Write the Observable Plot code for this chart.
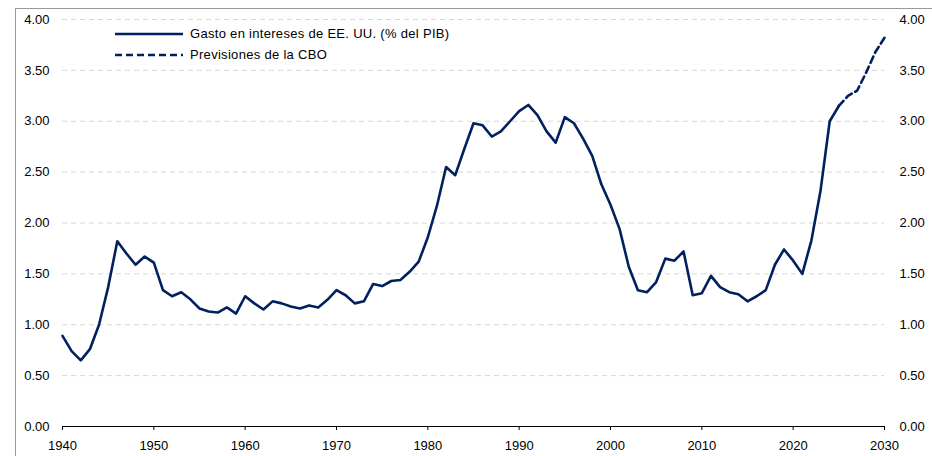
<!DOCTYPE html>
<html>
<head>
<meta charset="utf-8">
<script src="https://cdn.jsdelivr.net/npm/d3@7"></script>
<script src="https://cdn.jsdelivr.net/npm/@observablehq/plot@0.6"></script>
<style>
  html, body { margin: 0; padding: 0; background: #fff; overflow: hidden; }
  #wrap { position: relative; width: 932px; height: 456px; font-family: "Liberation Sans", Arial, sans-serif; }
  #frame { position: absolute; left: 15px; top: 8px; width: 1000px; height: 1000px; border-left: 1px solid #9a9a9a; border-top: 1px solid #9a9a9a; pointer-events: none; }
  #chart { position: absolute; left: 0; top: 0; }
  .legend { position: absolute; left: 115px; font-size: 13px; color: #000; display: flex; align-items: center; letter-spacing: 0.3px; }
  .legend svg { margin-right: 7px; }
</style>
</head>
<body>
<div id="wrap">
  <div id="frame"></div>
  <div id="chart"></div>
  <div class="legend" style="top:26px;"><svg width="68" height="4"><line x1="0" x2="68" y1="2" y2="2" stroke="#002060" stroke-width="2.5"/></svg><span>Gasto en intereses de EE. UU. (% del PIB)</span></div>
  <div class="legend" style="top:47px;"><svg width="68" height="4"><line x1="0" x2="68" y1="2" y2="2" stroke="#002060" stroke-width="2.5" stroke-dasharray="7,4"/></svg><span>Previsiones de la CBO</span></div>
</div>
<script>
const years = d3.range(1940, 2026);
const interest = [
  0.89, 0.74, 0.65, 0.76, 1.00, 1.37, 1.82, 1.70, 1.59, 1.67,
  1.61, 1.34, 1.28, 1.32, 1.25, 1.16, 1.13, 1.12, 1.17, 1.11,
  1.28, 1.21, 1.15, 1.23, 1.21, 1.18, 1.16, 1.19, 1.17, 1.245,
  1.34, 1.29, 1.21, 1.23, 1.40, 1.38, 1.43, 1.44, 1.52, 1.62,
  1.86, 2.17, 2.55, 2.47, 2.73, 2.98, 2.96, 2.85, 2.90, 3.00,
  3.10, 3.16, 3.06, 2.90, 2.79, 3.04, 2.98, 2.83, 2.66, 2.38,
  2.18, 1.94, 1.57, 1.34, 1.32, 1.42, 1.65, 1.63, 1.72, 1.29,
  1.31, 1.48, 1.37, 1.32, 1.30, 1.23, 1.28, 1.34, 1.59, 1.74,
  1.63, 1.50, 1.83, 2.32, 3.00, 3.15
];
const cboYears = [2025, 2026, 2027, 2028, 2029, 2030];
const cboValues = [3.15, 3.25, 3.30, 3.48, 3.68, 3.82];
const yTicks = [0, 0.5, 1, 1.5, 2, 2.5, 3, 3.5, 4];
const xTicks = [1940, 1950, 1960, 1970, 1980, 1990, 2000, 2010, 2020, 2030];

const actual = years.map((y, i) => ({year: y, value: interest[i]}));
const cbo = cboYears.map((y, i) => ({year: y, value: cboValues[i]}));
const fmt = d3.format(".2f");

const chart = Plot.plot({
  width: 932,
  height: 456,
  marginLeft: 62,
  marginRight: 48,
  marginTop: 19,
  marginBottom: 30,
  style: {fontFamily: '"Liberation Sans", Arial, sans-serif', fontSize: "13px", color: "#000", background: "transparent"},
  x: {domain: [1940, 2030]},
  y: {domain: [0, 4]},
  marks: [
    Plot.gridY(yTicks.filter(d => d > 0), {stroke: "#d6d6d6", strokeOpacity: 1, strokeDasharray: "5,4", strokeWidth: 1}),
    Plot.axisY(yTicks, {anchor: "left", tickSize: 0, tickPadding: 13, tickFormat: fmt, label: null}),
    Plot.axisY(yTicks, {anchor: "right", tickSize: 0, tickPadding: 15, tickFormat: fmt, label: null, textAnchor: "start"}),
    Plot.axisX(xTicks, {tickSize: 4, tickPadding: 10, tickFormat: "d", label: null, stroke: "#000", strokeWidth: 1}),
    Plot.ruleY([0], {stroke: "#000", strokeWidth: 1.2}),
    Plot.line(actual, {x: "year", y: "value", stroke: "#002060", strokeWidth: 2.6}),
    Plot.line(cbo, {x: "year", y: "value", stroke: "#002060", strokeWidth: 2.6, strokeDasharray: "7,4"})
  ]
});
document.getElementById("chart").appendChild(chart);
</script>
</body>
</html>
